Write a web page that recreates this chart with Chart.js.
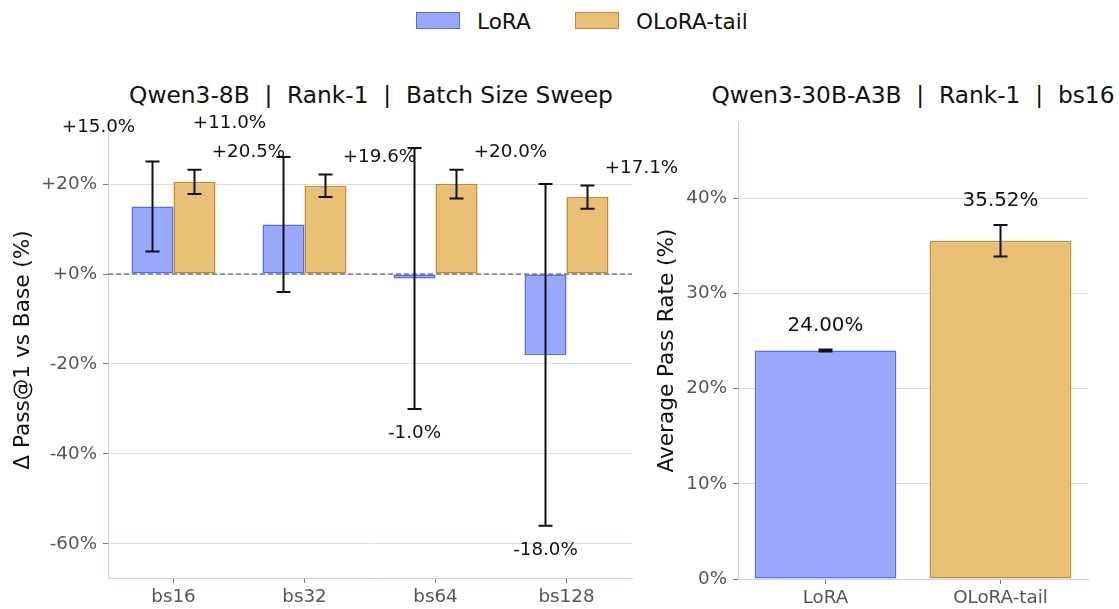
<!DOCTYPE html>
<html>
<head>
<meta charset="utf-8">
<script src="https://cdn.jsdelivr.net/npm/chart.js@4.4.1/dist/chart.umd.min.js"></script>
<style>
  html, body { margin: 0; padding: 0; background: #fff; }
  body { width: 1119px; height: 609px; position: relative; overflow: hidden; font-family: "DejaVu Sans", sans-serif; }
  canvas { position: absolute; top: 0; }
  #deltaChart { left: 0; }
  #passChart { left: 640px; }
  .title { position: absolute; top: 83px; font-size: 23.3px; line-height: 23px; white-space: pre; color: #111; transform: translateX(-50%); }
  .legend-box { position: absolute; top: 12px; width: 44px; height: 17px; box-sizing: border-box; }
  .legend-text { position: absolute; top: 11px; font-size: 21.6px; line-height: 21px; color: #111; white-space: pre; }
</style>
</head>
<body>
<div class="legend-box" id="lgLora" style="left:416px"></div>
<div class="legend-text" style="left:477px">LoRA</div>
<div class="legend-box" id="lgOlora" style="left:575px"></div>
<div class="legend-text" style="left:636px">OLoRA-tail</div>

<div class="title" style="left:371px">Qwen3-8B  |  Rank-1  |  Batch Size Sweep</div>
<div class="title" style="left:913px">Qwen3-30B-A3B  |  Rank-1  |  bs16</div>

<canvas id="deltaChart" width="700" height="609"></canvas>
<canvas id="passChart" width="479" height="609"></canvas>

<script>
// left panel: change vs base per batch size
const batchSizes = ['bs16', 'bs32', 'bs64', 'bs128'];
const loraDelta = [15.0, 11.0, -1.0, -18.0];
const loraDeltaErr = [10.0, 15.0, 29.0, 38.0];
const oloraDelta = [20.5, 19.6, 20.0, 17.1];
const oloraDeltaErr = [2.7, 2.5, 3.2, 2.6];
const deltaTicks = [-60, -40, -20, 0, 20];

// right panel: average pass rate
const methods = ['LoRA', 'OLoRA-tail'];
const passRate = [24.00, 35.52];
const passRateErr = [0.1, 1.65];
const passTicks = [0, 10, 20, 30, 40];

const loraFill = '#98a9fd', loraEdge = '#5a6be0';
const oloraFill = '#e9bf76', oloraEdge = '#c08a2e';
const gridBlue = '#d3ddfa';
const axisBlue = '#c5d2f7';
const tickGrey = '#555';

document.getElementById('lgLora').style.cssText += ';background:' + loraFill + ';border:1.5px solid ' + loraEdge;
document.getElementById('lgOlora').style.cssText += ';background:' + oloraFill + ';border:1.5px solid ' + oloraEdge;

Chart.defaults.font.family = '"DejaVu Sans", sans-serif';

const zeroLine = {
  id: 'zeroLine',
  afterDatasetsDraw(chart) {
    const y = chart.scales.y.getPixelForValue(0);
    const a = chart.chartArea, ctx = chart.ctx;
    ctx.save();
    ctx.strokeStyle = '#444';
    ctx.lineWidth = 1;
    ctx.setLineDash([5, 3]);
    ctx.beginPath();
    ctx.moveTo(a.left, y);
    ctx.lineTo(a.right, y);
    ctx.stroke();
    ctx.restore();
  }
};

const errorBars = {
  id: 'errorBars',
  afterDatasetsDraw(chart) {
    const ctx = chart.ctx, ys = chart.scales.y;
    chart.data.datasets.forEach(function (ds, i) {
      if (!ds.err) return;
      chart.getDatasetMeta(i).data.forEach(function (bar, j) {
        const top = ys.getPixelForValue(ds.data[j] + ds.err[j]);
        const bot = ys.getPixelForValue(ds.data[j] - ds.err[j]);
        ctx.save();
        ctx.strokeStyle = '#111';
        ctx.lineWidth = 2;
        ctx.beginPath();
        ctx.moveTo(bar.x, top); ctx.lineTo(bar.x, bot);
        ctx.moveTo(bar.x - 7, top); ctx.lineTo(bar.x + 7, top);
        ctx.moveTo(bar.x - 7, bot); ctx.lineTo(bar.x + 7, bot);
        ctx.stroke();
        ctx.restore();
      });
    });
  }
};

const barLabels = {
  id: 'barLabels',
  afterDatasetsDraw(chart, args, opts) {
    const ctx = chart.ctx, ys = chart.scales.y;
    chart.data.datasets.forEach(function (ds, i) {
      chart.getDatasetMeta(i).data.forEach(function (bar, j) {
        const v = ds.data[j], e = ds.err[j];
        const p = opts.place(i, v);
        const y = v >= 0 ? ys.getPixelForValue(v + e) - p.dy : ys.getPixelForValue(v - e) + p.dy;
        ctx.save();
        ctx.fillStyle = '#111';
        ctx.font = opts.size + 'px "DejaVu Sans", sans-serif';
        ctx.textAlign = 'center';
        ctx.textBaseline = 'middle';
        ctx.fillText(opts.format(v), bar.x + p.dx, y);
        ctx.restore();
      });
    });
  }
};

new Chart(document.getElementById('deltaChart'), {
  type: 'bar',
  data: {
    labels: batchSizes,
    datasets: [
      { label: 'LoRA', data: loraDelta, err: loraDeltaErr, backgroundColor: loraFill, borderColor: loraEdge, borderWidth: 1.5, borderSkipped: false },
      { label: 'OLoRA-tail', data: oloraDelta, err: oloraDeltaErr, backgroundColor: oloraFill, borderColor: oloraEdge, borderWidth: 1.5, borderSkipped: false }
    ]
  },
  options: {
    responsive: false,
    animation: false,
    categoryPercentage: 0.641,
    barPercentage: 1.0,
    layout: { padding: { top: 122, right: 68, bottom: 0, left: 0 } },
    plugins: {
      legend: { display: false },
      tooltip: { enabled: false },
      barLabels: {
        size: 18.3,
        format: v => (v >= 0 ? '+' : '') + v.toFixed(1) + '%',
        place: (i, v) => v < 0 ? { dx: 0, dy: 24 } : (i === 0 ? { dx: -54, dy: 34 } : { dx: 54, dy: 17 })
      }
    },
    scales: {
      x: {
        afterFit: s => { s.height = 31; },
        ticks: { color: tickGrey, font: { size: 18.3 }, padding: 3, autoSkip: false, maxRotation: 0 },
        grid: { display: true, drawOnChartArea: false, offset: false, tickColor: '#777', tickLength: 5 },
        border: { color: axisBlue }
      },
      y: {
        min: -67.6,
        max: 33.8,
        afterFit: s => { s.width = 108; },
        afterBuildTicks: s => { s.ticks = deltaTicks.map(v => ({ value: v })); },
        ticks: { color: tickGrey, font: { size: 18.3 }, padding: 6, callback: v => (v >= 0 ? '+' : '') + v + '%' },
        grid: { color: gridBlue, tickColor: '#777', tickLength: 5 },
        border: { color: axisBlue },
        title: { display: true, text: 'Δ Pass@1 vs Base (%)', color: '#111', font: { size: 21.6 }, padding: { top: 10, bottom: 0 } }
      }
    }
  },
  plugins: [zeroLine, errorBars, barLabels]
});

new Chart(document.getElementById('passChart'), {
  type: 'bar',
  data: {
    labels: methods,
    datasets: [{
      label: 'Average Pass Rate',
      data: passRate,
      err: passRateErr,
      backgroundColor: [loraFill, oloraFill],
      borderColor: [loraEdge, oloraEdge],
      borderWidth: 1.5,
      borderSkipped: false
    }]
  },
  options: {
    responsive: false,
    animation: false,
    categoryPercentage: 1.0,
    barPercentage: 0.81,
    layout: { padding: { top: 122, right: 31, bottom: 0, left: 0 } },
    plugins: {
      legend: { display: false },
      tooltip: { enabled: false },
      barLabels: {
        size: 19.9,
        format: v => v.toFixed(2) + '%',
        place: () => ({ dx: 0, dy: 24 })
      }
    },
    scales: {
      x: {
        afterFit: s => { s.height = 30; },
        ticks: { color: tickGrey, font: { size: 18.3 }, padding: 3, autoSkip: false, maxRotation: 0 },
        grid: { display: true, drawOnChartArea: false, offset: false, tickColor: '#777', tickLength: 5 },
        border: { color: axisBlue }
      },
      y: {
        min: 0,
        max: 48,
        afterFit: s => { s.width = 98; },
        afterBuildTicks: s => { s.ticks = passTicks.map(v => ({ value: v })); },
        ticks: { color: tickGrey, font: { size: 18.3 }, padding: 6, callback: v => v + '%' },
        grid: { color: gridBlue, tickColor: '#777', tickLength: 5 },
        border: { color: axisBlue },
        title: { display: true, text: 'Average Pass Rate (%)', color: '#111', font: { size: 21.6 }, padding: { top: 14, bottom: 0 } }
      }
    }
  },
  plugins: [errorBars, barLabels]
});
</script>
</body>
</html>
